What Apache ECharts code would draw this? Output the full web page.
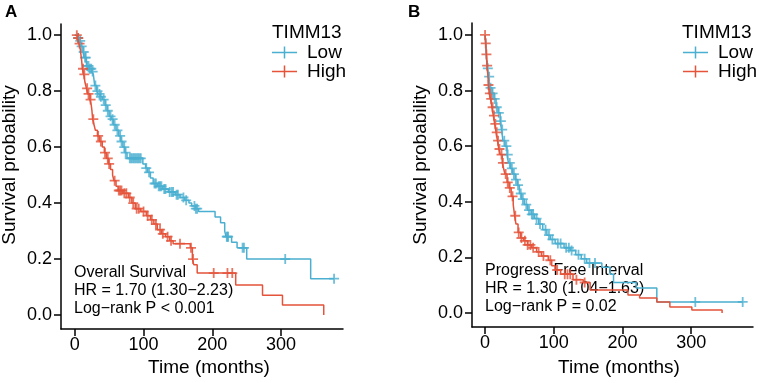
<!DOCTYPE html>
<html>
<head>
<meta charset="utf-8">
<title>TIMM13 survival</title>
<script src="https://cdn.jsdelivr.net/npm/echarts@6.0.0/dist/echarts.min.js"></script>
<style>
  html, body { margin: 0; padding: 0; background: #fff; }
  #main { width: 759px; height: 383px; }
</style>
</head>
<body>
<div id="main"></div>
<script>
// Kaplan-Meier steps: [months, survival after the step]
var osLow = [[0,1],[4,0.99],[7,0.98],[9,0.96],[12,0.94],[14,0.92],[17,0.89],[21,0.88],[25,0.87],[27,0.86],[28,0.84],[29,0.82],[32,0.80],[34,0.79],[37,0.78],[40,0.77],[44,0.75],[47,0.73],[50,0.71],[53,0.70],[56,0.68],[60,0.66],[64,0.64],[67,0.62],[70,0.60],[73,0.58],[76,0.56],[99,0.54],[103,0.525],[106,0.51],[110,0.49],[114,0.47],[120,0.46],[128,0.45],[136,0.44],[146,0.43],[153,0.42],[160,0.41],[166,0.40],[170,0.39],[176,0.38],[180,0.37],[204,0.35],[212,0.33],[218,0.30],[220,0.28],[228,0.26],[236,0.24],[250,0.20],[343,0.13],[377,0.13]];
var osHigh = [[0,1],[4,0.99],[6,0.97],[8,0.95],[9,0.93],[10,0.91],[11,0.88],[13,0.86],[15,0.83],[17,0.81],[19,0.79],[22,0.77],[24,0.75],[25,0.73],[26,0.70],[28,0.68],[30,0.66],[33,0.64],[36,0.62],[40,0.60],[43,0.58],[46,0.56],[49,0.54],[52,0.52],[55,0.50],[57,0.48],[60,0.46],[63,0.445],[70,0.435],[78,0.42],[83,0.40],[88,0.38],[96,0.37],[104,0.355],[110,0.34],[115,0.325],[120,0.305],[126,0.29],[132,0.28],[138,0.265],[143,0.255],[168,0.24],[171,0.20],[173,0.18],[178,0.15],[234,0.107],[273,0.071],[302,0.036],[362,0]];
var pfiLow = [[0,1],[1,0.96],[2,0.92],[3,0.88],[5,0.85],[7,0.81],[10,0.79],[13,0.77],[16,0.74],[19,0.72],[22,0.69],[24,0.66],[26,0.62],[29,0.60],[32,0.57],[34,0.54],[37,0.52],[40,0.50],[44,0.48],[47,0.46],[50,0.43],[53,0.41],[57,0.39],[62,0.37],[67,0.355],[72,0.34],[78,0.32],[84,0.30],[90,0.28],[95,0.265],[102,0.25],[115,0.235],[124,0.225],[132,0.21],[140,0.195],[148,0.18],[170,0.165],[182,0.14],[187,0.11],[220,0.09],[250,0.04],[375,0.04]];
var pfiHigh = [[0,1],[1,0.97],[2,0.93],[3,0.89],[4,0.86],[5,0.82],[6,0.79],[8,0.77],[10,0.74],[12,0.71],[14,0.68],[16,0.65],[18,0.62],[20,0.59],[22,0.57],[25,0.54],[27,0.52],[29,0.50],[32,0.47],[35,0.45],[38,0.42],[41,0.39],[43,0.35],[45,0.32],[48,0.29],[52,0.27],[56,0.26],[62,0.245],[68,0.235],[75,0.22],[82,0.205],[92,0.19],[97,0.17],[102,0.155],[110,0.14],[128,0.12],[143,0.11],[153,0.083],[208,0.065],[225,0.054],[250,0.04],[269,0.022],[301,0.011],[345,0]];

// censored times (months)
var osLowCens = [5,8,10,13,15,16,18,20,22,24,26,30,33,36,38,42,45,48,52,55,58,62,66,68,72,74,80,82,84,86,88,90,92,94,96,104,108,116,118,122,124,126,130,132,138,141,143,148,150,158,162,174,176,178,221,222,223,244,246,306,377];
var osHighCens = [3,5,7,12,14,18,20,23,27,34,38,44,48,50,58,64,66,68,72,75,80,85,90,93,100,106,112,118,124,128,135,140,153,169,172,202,222,229];
var pfiLowCens = [4,6,8,11,14,17,20,23,25,28,31,33,36,39,42,45,48,52,55,60,64,68,70,75,80,88,93,98,106,110,118,122,126,136,145,152,160,306,375];
var pfiHighCens = [0,1,2,3,5,7,9,11,13,15,17,19,21,24,26,30,33,36,40,44,49,53,58,62,66,70,78,85,95,105,116,120,124,133,145];

var xTicks = [0, 100, 200, 300];
var yTicks = [0, 0.2, 0.4, 0.6, 0.8, 1.0];
var groups = ['Low', 'High'];

var colLow = '#4AAFD0';
var colHigh = '#E4533A';
var FONT = 'Liberation Sans, Arial, Helvetica, sans-serif';
var plus = 'path://M-0.9,-5H0.9V-0.9H5V0.9H0.9V5H-0.9V0.9H-5V-0.9H-0.9Z';
var legendIcon = 'path://M0,5.25H25V6.75H0Z M11.75,0H13.25V12H11.75Z';

// survival level of the curve at time t
function levelAt(curve, t) {
    var s = 1;
    for (var i = 0; i < curve.length; i++) {
        if (curve[i][0] <= t) s = curve[i][1];
    }
    return s;
}
function censPoints(curve, times) {
    return times.map(function (t) { return [t, levelAt(curve, t)]; });
}

function stepSeries(name, data, idx, color) {
    return {
        name: name, type: 'line', step: 'end', data: data,
        xAxisIndex: idx, yAxisIndex: idx,
        showSymbol: false, color: color,
        lineStyle: { color: color, width: 1.5 },
        itemStyle: { color: color }
    };
}
function censSeries(name, data, idx, color) {
    return {
        name: name, type: 'scatter', data: data,
        xAxisIndex: idx, yAxisIndex: idx,
        symbol: plus, symbolSize: 10, color: color,
        itemStyle: { color: color }
    };
}

function xAxisOf(idx, min) {
    return {
        type: 'value', gridIndex: idx, min: min, max: 390,
        splitLine: { show: false },
        axisLine: { onZero: false, lineStyle: { color: '#000', width: 1.5 } },
        axisTick: { customValues: xTicks, length: 7, lineStyle: { color: '#000', width: 1.5 } },
        axisLabel: { customValues: xTicks, color: '#000', fontSize: 18, fontFamily: FONT, margin: 7 }
    };
}
function yAxisOf(idx, max) {
    return {
        type: 'value', gridIndex: idx, min: -0.05, max: max,
        splitLine: { show: false },
        axisLine: { onZero: false, lineStyle: { color: '#000', width: 1.5 } },
        axisTick: { customValues: yTicks, length: 7, lineStyle: { color: '#000', width: 1.5 } },
        axisLabel: {
            customValues: yTicks, color: '#000', fontSize: 18, fontFamily: FONT, margin: 9,
            formatter: function (v) { return v.toFixed(1); }
        }
    };
}
function legendOf(left) {
    return {
        left: left, top: 43, orient: 'vertical', padding: 0, itemGap: 0,
        itemWidth: 25, itemHeight: 12, selectedMode: false,
        textStyle: { fontSize: 19, fontFamily: FONT, color: '#000', lineHeight: 18, padding: [0, 0, 0, 5] },
        data: groups.map(function (g) { return { name: g, icon: legendIcon }; })
    };
}
function txt(x, y, s, font, align, rot) {
    return {
        type: 'text', x: x, y: y, rotation: rot || 0,
        style: { text: s, fill: '#000', font: font + ' ' + FONT, align: align || 'left', verticalAlign: 'middle' }
    };
}

var myChart = echarts.init(document.getElementById('main'));
var option = {
    animation: false,
    backgroundColor: '#fff',
    grid: [
        { left: 61, top: 24, width: 282, height: 305 },
        { left: 472, top: 23, width: 281, height: 304 }
    ],
    xAxis: [xAxisOf(0, -20), xAxisOf(1, -19)],
    yAxis: [yAxisOf(0, 1.04), yAxisOf(1, 1.043)],
    legend: [legendOf(272), legendOf(683)],
    series: [
        stepSeries('Low', osLow, 0, colLow),
        stepSeries('High', osHigh, 0, colHigh),
        censSeries('Low', censPoints(osLow, osLowCens), 0, colLow),
        censSeries('High', censPoints(osHigh, osHighCens), 0, colHigh),
        stepSeries('Low', pfiLow, 1, colLow),
        stepSeries('High', pfiHigh, 1, colHigh),
        censSeries('Low', censPoints(pfiLow, pfiLowCens), 1, colLow),
        censSeries('High', censPoints(pfiHigh, pfiHighCens), 1, colHigh)
    ],
    graphic: [
        txt(5, 12, 'A', 'bold 17px'),
        txt(408, 12, 'B', 'bold 17px'),
        txt(10, 165, 'Survival probability', '19px', 'center', Math.PI / 2),
        txt(421, 165, 'Survival probability', '19px', 'center', Math.PI / 2),
        txt(209, 368, 'Time (months)', '19px', 'center'),
        txt(619, 368, 'Time (months)', '19px', 'center'),
        txt(272, 33, 'TIMM13', '19px'),
        txt(682, 33, 'TIMM13', '19px'),
        txt(74, 273, 'Overall Survival', '16px'),
        txt(74, 291, 'HR = 1.70 (1.30\u22122.23)', '16px'),
        txt(74, 309, 'Log\u2212rank P < 0.001', '16px'),
        txt(485, 271, 'Progress Free Interval', '16px'),
        txt(485, 289, 'HR = 1.30 (1.04\u22121.63)', '16px'),
        txt(485, 307, 'Log\u2212rank P = 0.02', '16px')
    ]
};
myChart.setOption(option);
window.addEventListener('resize', function () { myChart.resize(); });
</script>
</body>
</html>
